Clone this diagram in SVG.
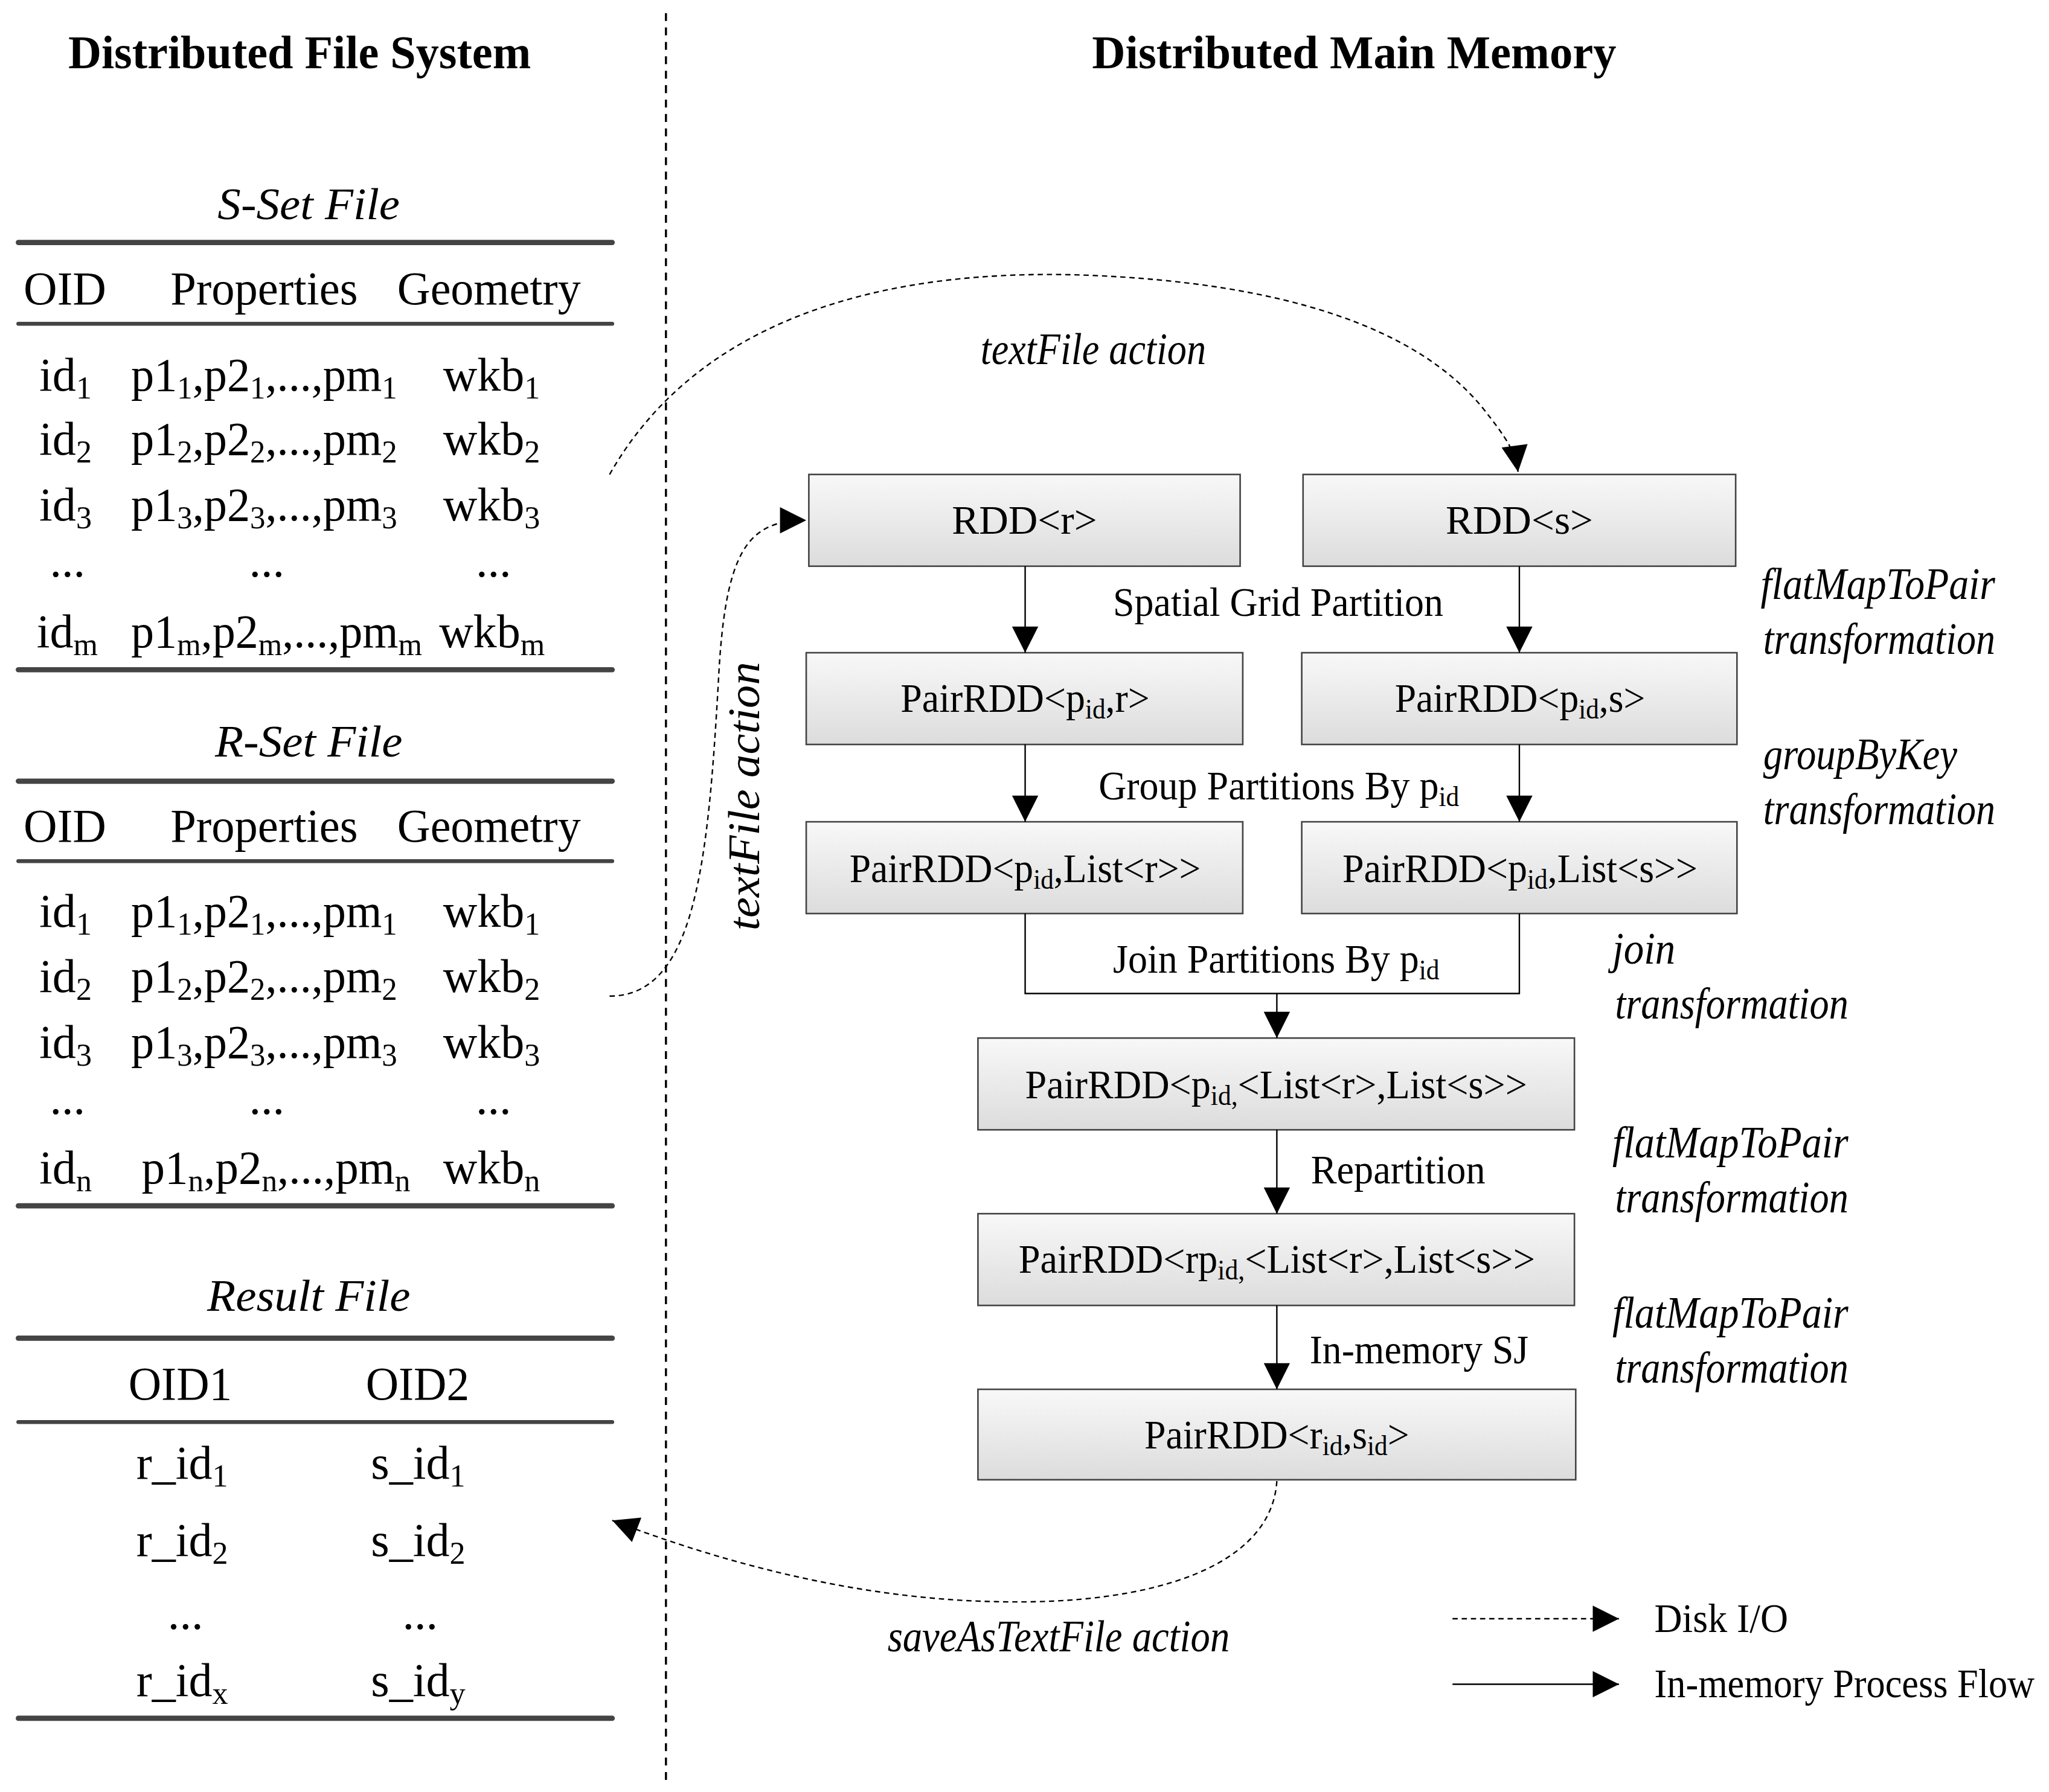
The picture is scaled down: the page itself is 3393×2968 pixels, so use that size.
<svg xmlns="http://www.w3.org/2000/svg" width="3393" height="2968" viewBox="0 0 3393 2968">
<defs>
<linearGradient id="g" x1="0" y1="0" x2="0" y2="1"><stop offset="0" stop-color="#f8f8f8"/><stop offset="1" stop-color="#dcdcdc"/></linearGradient>
<marker id="ahb" viewBox="0 0 10 10" refX="10" refY="5" markerWidth="24" markerHeight="20" markerUnits="userSpaceOnUse" orient="auto"><path d="M0,0 L10,5 L0,10 z" fill="#000"/></marker>
<style>
text{font-family:"Liberation Serif","Times New Roman",serif;fill:#000}
.t{font-size:36px;font-weight:bold}
.c{font-size:36px}
.i{font-size:34px;font-style:italic}
.b{font-size:31px}
.bx{fill:url(#g);stroke:#444;stroke-width:1.2}
.rule{stroke:#444;stroke-linecap:round}
.ln{fill:none;stroke:#000;stroke-width:1.1}
.ds{fill:none;stroke:#000;stroke-width:1.1;stroke-dasharray:4,3}
</style>
</defs>
<rect width="3393" height="2968" fill="#fff"/>
<g transform="scale(2.1708)">
<line x1="508" y1="10" x2="508" y2="1362" stroke="#000" stroke-width="1.6" stroke-dasharray="6,5"/>
<g id="titles">
<text class="t" x="52" y="52" textLength="353" lengthAdjust="spacingAndGlyphs">Distributed File System</text>
<text class="t" x="833" y="52" textLength="400" lengthAdjust="spacingAndGlyphs">Distributed Main Memory</text>
</g>
<g id="sset">
<text class="i" x="166" y="167" textLength="139" lengthAdjust="spacingAndGlyphs" font-size="36">S-Set File</text>
<line class="rule" x1="14" y1="185" x2="467" y2="185" stroke-width="4"/>
<line class="rule" x1="14" y1="247" x2="467" y2="247" stroke-width="3"/>
<line class="rule" x1="14" y1="511" x2="467" y2="511" stroke-width="4"/>
<text class="c" x="18" y="232" textLength="63" lengthAdjust="spacingAndGlyphs">OID</text>
<text class="c" x="130" y="232" textLength="143" lengthAdjust="spacingAndGlyphs">Properties</text>
<text class="c" x="303" y="232" textLength="140" lengthAdjust="spacingAndGlyphs">Geometry</text>
<text class="c" x="30" y="298">id<tspan font-size="24" dy="6">1</tspan></text>
<text class="c" x="100" y="298" textLength="203" lengthAdjust="spacingAndGlyphs">p1<tspan font-size="24" dy="6">1</tspan><tspan dy="-6">,p2</tspan><tspan font-size="24" dy="6">1</tspan><tspan dy="-6">,...,pm</tspan><tspan font-size="24" dy="6">1</tspan></text>
<text class="c" x="338" y="298">wkb<tspan font-size="24" dy="6">1</tspan></text>
<text class="c" x="30" y="347">id<tspan font-size="24" dy="6">2</tspan></text>
<text class="c" x="100" y="347" textLength="203" lengthAdjust="spacingAndGlyphs">p1<tspan font-size="24" dy="6">2</tspan><tspan dy="-6">,p2</tspan><tspan font-size="24" dy="6">2</tspan><tspan dy="-6">,...,pm</tspan><tspan font-size="24" dy="6">2</tspan></text>
<text class="c" x="338" y="347">wkb<tspan font-size="24" dy="6">2</tspan></text>
<text class="c" x="30" y="397">id<tspan font-size="24" dy="6">3</tspan></text>
<text class="c" x="100" y="397" textLength="203" lengthAdjust="spacingAndGlyphs">p1<tspan font-size="24" dy="6">3</tspan><tspan dy="-6">,p2</tspan><tspan font-size="24" dy="6">3</tspan><tspan dy="-6">,...,pm</tspan><tspan font-size="24" dy="6">3</tspan></text>
<text class="c" x="338" y="397">wkb<tspan font-size="24" dy="6">3</tspan></text>
<text class="c" x="38" y="440">...</text><text class="c" x="190" y="440">...</text><text class="c" x="363" y="440">...</text>
<text class="c" x="28" y="494">id<tspan font-size="24" dy="6">m</tspan></text>
<text class="c" x="100" y="494" textLength="222" lengthAdjust="spacingAndGlyphs">p1<tspan font-size="24" dy="6">m</tspan><tspan dy="-6">,p2</tspan><tspan font-size="24" dy="6">m</tspan><tspan dy="-6">,...,pm</tspan><tspan font-size="24" dy="6">m</tspan></text>
<text class="c" x="335" y="494">wkb<tspan font-size="24" dy="6">m</tspan></text>
</g>
<g id="rset">
<text class="i" x="164" y="577" textLength="143" lengthAdjust="spacingAndGlyphs" font-size="36">R-Set File</text>
<line class="rule" x1="14" y1="596" x2="467" y2="596" stroke-width="4"/>
<line class="rule" x1="14" y1="657" x2="467" y2="657" stroke-width="3"/>
<line class="rule" x1="14" y1="920" x2="467" y2="920" stroke-width="4"/>
<text class="c" x="18" y="642" textLength="63" lengthAdjust="spacingAndGlyphs">OID</text>
<text class="c" x="130" y="642" textLength="143" lengthAdjust="spacingAndGlyphs">Properties</text>
<text class="c" x="303" y="642" textLength="140" lengthAdjust="spacingAndGlyphs">Geometry</text>
<text class="c" x="30" y="707">id<tspan font-size="24" dy="6">1</tspan></text>
<text class="c" x="100" y="707" textLength="203" lengthAdjust="spacingAndGlyphs">p1<tspan font-size="24" dy="6">1</tspan><tspan dy="-6">,p2</tspan><tspan font-size="24" dy="6">1</tspan><tspan dy="-6">,...,pm</tspan><tspan font-size="24" dy="6">1</tspan></text>
<text class="c" x="338" y="707">wkb<tspan font-size="24" dy="6">1</tspan></text>
<text class="c" x="30" y="757">id<tspan font-size="24" dy="6">2</tspan></text>
<text class="c" x="100" y="757" textLength="203" lengthAdjust="spacingAndGlyphs">p1<tspan font-size="24" dy="6">2</tspan><tspan dy="-6">,p2</tspan><tspan font-size="24" dy="6">2</tspan><tspan dy="-6">,...,pm</tspan><tspan font-size="24" dy="6">2</tspan></text>
<text class="c" x="338" y="757">wkb<tspan font-size="24" dy="6">2</tspan></text>
<text class="c" x="30" y="807">id<tspan font-size="24" dy="6">3</tspan></text>
<text class="c" x="100" y="807" textLength="203" lengthAdjust="spacingAndGlyphs">p1<tspan font-size="24" dy="6">3</tspan><tspan dy="-6">,p2</tspan><tspan font-size="24" dy="6">3</tspan><tspan dy="-6">,...,pm</tspan><tspan font-size="24" dy="6">3</tspan></text>
<text class="c" x="338" y="807">wkb<tspan font-size="24" dy="6">3</tspan></text>
<text class="c" x="38" y="850">...</text><text class="c" x="190" y="850">...</text><text class="c" x="363" y="850">...</text>
<text class="c" x="30" y="903">id<tspan font-size="24" dy="6">n</tspan></text>
<text class="c" x="108" y="903" textLength="205" lengthAdjust="spacingAndGlyphs">p1<tspan font-size="24" dy="6">n</tspan><tspan dy="-6">,p2</tspan><tspan font-size="24" dy="6">n</tspan><tspan dy="-6">,...,pm</tspan><tspan font-size="24" dy="6">n</tspan></text>
<text class="c" x="338" y="903">wkb<tspan font-size="24" dy="6">n</tspan></text>
</g>
<g id="result">
<text class="i" x="158" y="1000" textLength="155" lengthAdjust="spacingAndGlyphs" font-size="36">Result File</text>
<line class="rule" x1="14" y1="1021" x2="467" y2="1021" stroke-width="4"/>
<line class="rule" x1="14" y1="1085" x2="467" y2="1085" stroke-width="3"/>
<line class="rule" x1="14" y1="1311" x2="467" y2="1311" stroke-width="4"/>
<text class="c" x="98" y="1068" textLength="79" lengthAdjust="spacingAndGlyphs">OID1</text>
<text class="c" x="279" y="1068" textLength="79" lengthAdjust="spacingAndGlyphs">OID2</text>
<text class="c" x="104" y="1128">r_id<tspan font-size="24" dy="6">1</tspan></text>
<text class="c" x="283" y="1128">s_id<tspan font-size="24" dy="6">1</tspan></text>
<text class="c" x="104" y="1187">r_id<tspan font-size="24" dy="6">2</tspan></text>
<text class="c" x="283" y="1187">s_id<tspan font-size="24" dy="6">2</tspan></text>
<text class="c" x="128" y="1243">...</text><text class="c" x="307" y="1243">...</text>
<text class="c" x="104" y="1294">r_id<tspan font-size="24" dy="6">x</tspan></text>
<text class="c" x="283" y="1294">s_id<tspan font-size="24" dy="6">y</tspan></text>
</g>
<g id="rdd_r"><rect class="bx" x="617" y="362" width="329" height="70"/><text class="b" x="781.5" y="407" text-anchor="middle">RDD&lt;r&gt;</text></g>
<g id="rdd_s"><rect class="bx" x="994" y="362" width="330" height="70"/><text class="b" x="1159" y="407" text-anchor="middle">RDD&lt;s&gt;</text></g>
<g id="pair_r"><rect class="bx" x="615" y="498" width="333" height="70"/><text class="b" x="687" y="543" textLength="190" lengthAdjust="spacingAndGlyphs">PairRDD&lt;p<tspan font-size="21" dy="5">id</tspan><tspan dy="-5">,r&gt;</tspan></text></g>
<g id="pair_s"><rect class="bx" x="993" y="498" width="332" height="70"/><text class="b" x="1064" y="543" textLength="191" lengthAdjust="spacingAndGlyphs">PairRDD&lt;p<tspan font-size="21" dy="5">id</tspan><tspan dy="-5">,s&gt;</tspan></text></g>
<g id="list_r"><rect class="bx" x="615" y="627" width="333" height="70"/><text class="b" x="648" y="673" textLength="268" lengthAdjust="spacingAndGlyphs">PairRDD&lt;p<tspan font-size="21" dy="5">id</tspan><tspan dy="-5">,List&lt;r&gt;&gt;</tspan></text></g>
<g id="list_s"><rect class="bx" x="993" y="627" width="332" height="70"/><text class="b" x="1024" y="673" textLength="271" lengthAdjust="spacingAndGlyphs">PairRDD&lt;p<tspan font-size="21" dy="5">id</tspan><tspan dy="-5">,List&lt;s&gt;&gt;</tspan></text></g>
<g id="joined"><rect class="bx" x="746" y="792" width="455" height="70"/><text class="b" x="782" y="838" textLength="383" lengthAdjust="spacingAndGlyphs">PairRDD&lt;p<tspan font-size="21" dy="5">id,</tspan><tspan dy="-5">&lt;List&lt;r&gt;,List&lt;s&gt;&gt;</tspan></text></g>
<g id="repart"><rect class="bx" x="746" y="926" width="455" height="70"/><text class="b" x="777" y="971" textLength="394" lengthAdjust="spacingAndGlyphs">PairRDD&lt;rp<tspan font-size="21" dy="5">id,</tspan><tspan dy="-5">&lt;List&lt;r&gt;,List&lt;s&gt;&gt;</tspan></text></g>
<g id="final"><rect class="bx" x="746" y="1060" width="456" height="69"/><text class="b" x="873" y="1105" textLength="202" lengthAdjust="spacingAndGlyphs">PairRDD&lt;r<tspan font-size="21" dy="5">id</tspan><tspan dy="-5">,s</tspan><tspan font-size="21" dy="5">id</tspan><tspan dy="-5">&gt;</tspan></text></g>
<g id="labels">
<text class="b" x="849" y="470" textLength="252" lengthAdjust="spacingAndGlyphs">Spatial Grid Partition</text>
<text class="b" x="838" y="610" textLength="275" lengthAdjust="spacingAndGlyphs">Group Partitions By p<tspan font-size="21" dy="5">id</tspan></text>
<text class="b" x="849" y="742" textLength="249" lengthAdjust="spacingAndGlyphs">Join Partitions By p<tspan font-size="21" dy="5">id</tspan></text>
<text class="b" x="1000" y="903" textLength="133" lengthAdjust="spacingAndGlyphs">Repartition</text>
<text class="b" x="999" y="1040" textLength="167" lengthAdjust="spacingAndGlyphs">In-memory SJ</text>
<text class="i" x="1343" y="457" textLength="179" lengthAdjust="spacingAndGlyphs">flatMapToPair</text>
<text class="i" x="1345" y="499" textLength="177" lengthAdjust="spacingAndGlyphs">transformation</text>
<text class="i" x="1345" y="587" textLength="148" lengthAdjust="spacingAndGlyphs">groupByKey</text>
<text class="i" x="1345" y="629" textLength="177" lengthAdjust="spacingAndGlyphs">transformation</text>
<text class="i" x="1230" y="735" textLength="48" lengthAdjust="spacingAndGlyphs">join</text>
<text class="i" x="1232" y="777" textLength="178" lengthAdjust="spacingAndGlyphs">transformation</text>
<text class="i" x="1230" y="883" textLength="180" lengthAdjust="spacingAndGlyphs">flatMapToPair</text>
<text class="i" x="1232" y="925" textLength="178" lengthAdjust="spacingAndGlyphs">transformation</text>
<text class="i" x="1230" y="1013" textLength="180" lengthAdjust="spacingAndGlyphs">flatMapToPair</text>
<text class="i" x="1232" y="1055" textLength="178" lengthAdjust="spacingAndGlyphs">transformation</text>
<text class="i" x="748" y="278" textLength="172" lengthAdjust="spacingAndGlyphs">textFile action</text>
<text class="i" transform="translate(579,710) rotate(-90)" x="0" y="0" textLength="205" lengthAdjust="spacingAndGlyphs">textFile action</text>
<text class="i" x="677" y="1260" textLength="261" lengthAdjust="spacingAndGlyphs">saveAsTextFile action</text>
<text class="b" x="1262" y="1245" textLength="102" lengthAdjust="spacingAndGlyphs">Disk I/O</text>
<text class="b" x="1262" y="1295" textLength="290" lengthAdjust="spacingAndGlyphs">In-memory Process Flow</text>
</g>
<g id="connectors">
<path class="ln" d="M782,432 V498" marker-end="url(#ahb)"/>
<path class="ln" d="M1159,432 V498" marker-end="url(#ahb)"/>
<path class="ln" d="M782,568 V627" marker-end="url(#ahb)"/>
<path class="ln" d="M1159,568 V627" marker-end="url(#ahb)"/>
<path class="ln" d="M782,697 V758 H1159 V697"/>
<path class="ln" d="M974,758 V792" marker-end="url(#ahb)"/>
<path class="ln" d="M974,862 V926" marker-end="url(#ahb)"/>
<path class="ln" d="M974,996 V1060" marker-end="url(#ahb)"/>
<path class="ds" d="M465,362 C540,230 700,205 830,210 C980,216 1080,250 1130,310 C1150,335 1156,345 1158,360" marker-end="url(#ahb)"/>
<path class="ds" d="M465,760 C530,760 540,660 548,520 C553,420 570,397 615,397" marker-end="url(#ahb)"/>
<path class="ds" d="M974,1130 C970,1195 880,1225 760,1222 C650,1220 545,1190 467,1160" marker-end="url(#ahb)"/>
<path class="ds" d="M1108,1235 H1235" marker-end="url(#ahb)"/>
<path class="ln" d="M1108,1285 H1235" marker-end="url(#ahb)"/>
</g>
</g>
</svg>
